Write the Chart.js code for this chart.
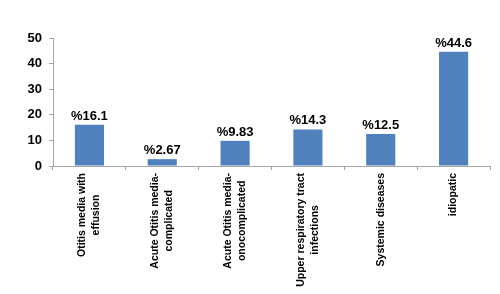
<!DOCTYPE html>
<html>
<head>
<meta charset="utf-8">
<script src="https://cdn.jsdelivr.net/npm/chart.js@4"></script>
<style>
  html, body { margin: 0; padding: 0; background: #fff; }
  #wrap { width: 500px; height: 294px; }
</style>
</head>
<body>
<div id="wrap"><canvas id="chart" width="500" height="294"></canvas></div>
<script>
const categories = [
  ['Otitis media with', 'effusion'],
  ['Acute Otitis media-', 'complicated'],
  ['Acute Otitis media-', 'onocomplicated'],
  ['Upper respiratory tract', 'infections'],
  ['Systemic diseases'],
  ['idiopatic']
];
const values = [16.1, 2.67, 9.83, 14.3, 12.5, 44.6];
const yTicks = [0, 10, 20, 30, 40, 50];

const FONT = 'Arial, "Liberation Sans", sans-serif';

// value labels above bars, like "%16.1"
const valueLabels = {
  id: 'valueLabels',
  afterDatasetsDraw(chart) {
    const ctx = chart.ctx;
    const meta = chart.getDatasetMeta(0);
    ctx.save();
    ctx.font = 'bold 13px ' + FONT;
    ctx.fillStyle = '#000';
    ctx.textAlign = 'center';
    ctx.textBaseline = 'alphabetic';
    meta.data.forEach((bar, i) => {
      ctx.fillText('%' + values[i], bar.x, bar.y - 5);
    });
    ctx.restore();
  }
};

// rotated category labels, lines centred like the original
const xLabels = {
  id: 'xLabels',
  afterDraw(chart) {
    const ctx = chart.ctx;
    const xs = chart.scales.x;
    const top = xs.top + 7;
    const lh = 14;
    ctx.save();
    ctx.font = 'bold 10.5px ' + FONT;
    ctx.fillStyle = '#000';
    ctx.textAlign = 'center';
    ctx.textBaseline = 'middle';
    categories.forEach((lines, i) => {
      const x = xs.getPixelForTick(i);
      const maxW = Math.max(...lines.map(l => ctx.measureText(l).width));
      ctx.save();
      ctx.translate(x, top);
      ctx.rotate(-Math.PI / 2);
      lines.forEach((l, j) => {
        ctx.fillText(l, -maxW / 2, (j - (lines.length - 1) / 2) * lh);
      });
      ctx.restore();
    });
    ctx.restore();
  }
};

const ctx = document.getElementById('chart').getContext('2d');
const chart = new Chart(ctx, {
  type: 'bar',
  data: {
    labels: categories,
    datasets: [{
      data: values,
      backgroundColor: '#4F81BD',
      borderWidth: 0,
      barPercentage: 0.4,
      categoryPercentage: 1
    }]
  },
  options: {
    responsive: false,
    animation: false,
    events: [],
    layout: { padding: { top: 38, right: 10, left: 0, bottom: 0 } },
    plugins: { legend: { display: false }, tooltip: { enabled: false } },
    scales: {
      x: {
        grid: { drawOnChartArea: false, drawTicks: true, tickLength: 4, color: '#A6A6A6', offset: true },
        border: { color: '#A6A6A6' },
        ticks: { color: 'rgba(0,0,0,0)', maxRotation: 0, minRotation: 0, autoSkip: false },
        afterFit(scale) { scale.height = 128; }
      },
      y: {
        min: 0,
        max: 50,
        afterBuildTicks(scale) { scale.ticks = yTicks.map(v => ({ value: v })); },
        grid: { drawOnChartArea: false, drawTicks: true, tickLength: 4, color: '#A6A6A6' },
        border: { color: '#A6A6A6' },
        ticks: { color: '#000', font: { family: FONT, size: 13, weight: 'bold' }, padding: 7 },
        afterFit(scale) { scale.width = 53; }
      }
    }
  },
  plugins: [valueLabels, xLabels]
});
</script>
</body>
</html>
